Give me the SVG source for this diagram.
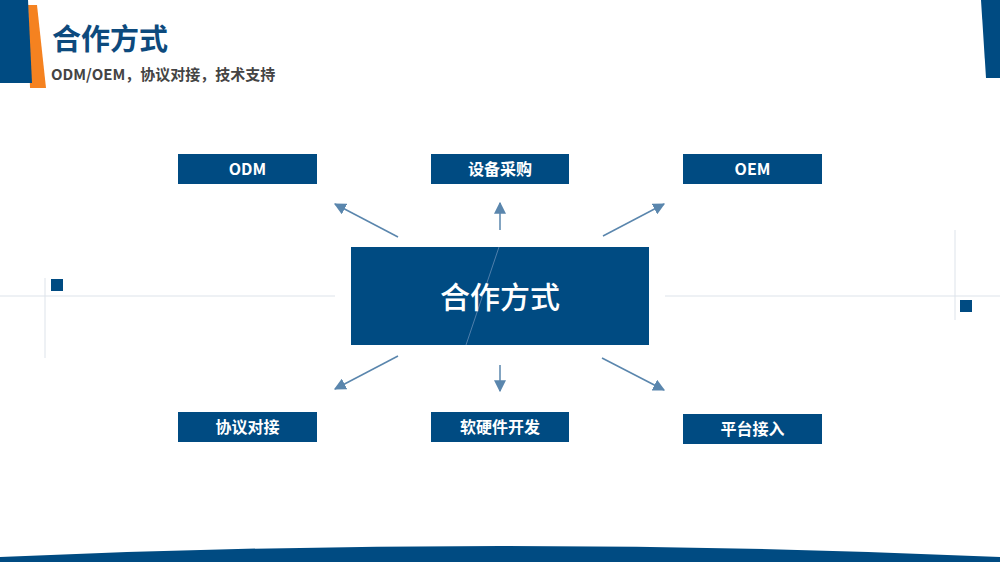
<svg xmlns="http://www.w3.org/2000/svg" width="1000" height="562" viewBox="0 0 1000 562">
<style>
.n{fill:#004b82}
.t{font-family:"Noto Sans CJK SC","Noto Sans",sans-serif;fill:#fff;font-weight:bold;font-size:16px;text-anchor:middle}
.c line{stroke:#5a86ad;stroke-width:1.5;marker-end:url(#a)}
.g{stroke:#dde3ea;stroke-width:1}
</style>
<defs><marker id="a" viewBox="0 0 10 10" refX="9" refY="5" markerWidth="8" markerHeight="8" orient="auto"><path d="M0,0L10,5L0,10Z" fill="#5a86ad"/></marker></defs>
<rect width="1000" height="562" fill="#fff"/>
<polygon points="28,5 37,5 46,88 30,88" fill="#f58220"/>
<polygon points="0,0 28,0 32,83 0,83" class="n"/>
<polygon points="981,0 1000,0 1000,78 986,78" class="n"/>
<path d="M0,562L0,557Q500,535 1000,557L1000,562Z" class="n"/>
<text x="52" y="50" font-family="Noto Sans CJK SC,sans-serif" font-size="29" font-weight="bold" fill="#0d4a7d">合作方式</text>
<text x="51" y="80" font-family="Noto Sans CJK SC,sans-serif" font-size="15" font-weight="bold" fill="#444">ODM/OEM，协议对接，技术支持</text>
<line class="g" x1="0" y1="296" x2="335" y2="296"/><line class="g" x1="665" y1="296" x2="1000" y2="296"/>
<line class="g" x1="45" y1="278" x2="45" y2="358"/><line class="g" x1="955" y1="230" x2="955" y2="320"/>
<rect x="51" y="279" width="12" height="12" class="n"/><rect x="960" y="300" width="12" height="12" class="n"/>
<g id="center"><rect x="351" y="247" width="298" height="98" class="n"/><line x1="499" y1="247" x2="466" y2="345" stroke="#4f7fab" stroke-width="1"/><text x="500" y="308" class="t" font-size="30" font-weight="normal" style="font-size:30px;font-weight:500">合作方式</text></g>
<g id="odm"><rect x="178" y="154" width="139" height="30" class="n"/><text x="247.5" y="175" class="t">ODM</text></g>
<g id="buy"><rect x="431" y="154" width="138" height="30" class="n"/><text x="500" y="175" class="t">设备采购</text></g>
<g id="oem"><rect x="683" y="154" width="139" height="30" class="n"/><text x="752.5" y="175" class="t">OEM</text></g>
<g id="proto"><rect x="178" y="412" width="139" height="30" class="n"/><text x="247.5" y="433" class="t">协议对接</text></g>
<g id="dev"><rect x="431" y="412" width="138" height="30" class="n"/><text x="500" y="433" class="t">软硬件开发</text></g>
<g id="plat"><rect x="683" y="414" width="139" height="30" class="n"/><text x="752.5" y="435" class="t">平台接入</text></g>
<g class="c">
<line x1="398" y1="237" x2="335" y2="204"/><line x1="500" y1="230" x2="500" y2="203"/><line x1="603" y1="236" x2="664" y2="204"/>
<line x1="398" y1="356" x2="335" y2="389"/><line x1="500" y1="365" x2="500" y2="391"/><line x1="602" y1="358" x2="664" y2="390"/>
</g>
</svg>
